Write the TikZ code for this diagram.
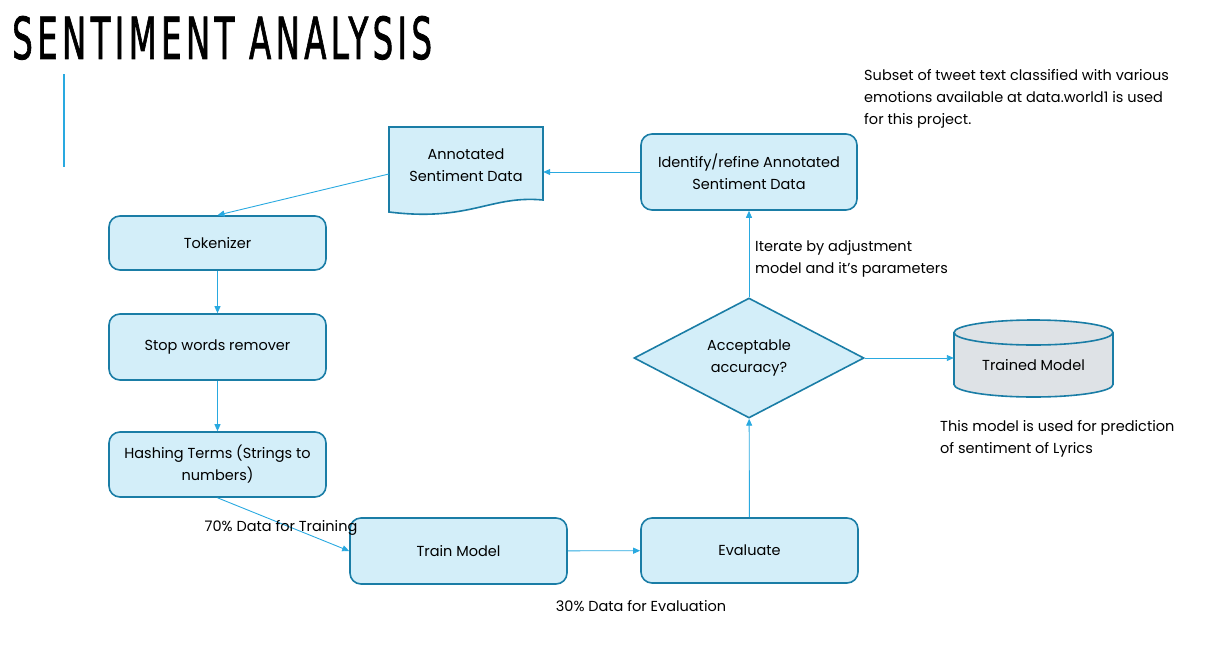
\documentclass[tikz,border=0pt]{standalone}
\usepackage{fontspec}
\setmainfont{Poppins}
\newfontfamily\titlefont[LetterSpace=12,FakeBold=1.6]{DejaVu Sans Condensed}
\usepackage{graphicx}
\usetikzlibrary{arrows.meta,shapes.geometric}
\definecolor{boxfill}{HTML}{D3EEF9}
\definecolor{boxline}{HTML}{1A7DA6}
\definecolor{flowline}{HTML}{29A9E0}
\definecolor{cylfill}{HTML}{DEE2E6}
\def\ellipsearc[#1](#2,#3)(#4:#5:#6:#7){\draw[#1] ({#2+#6*cos(#4)},{#3-#7*sin(#4)}) arc[start angle=-#4, end angle=-#5, x radius=#6, y radius=#7];}

\begin{document}
\begin{tikzpicture}[x=1pt, y=-1pt,
		font=\fontsize{14.5}{22}\selectfont,
		box/.style={draw=boxline, line width=1.6pt, fill=boxfill, rounded corners=11pt, align=center, inner sep=0pt},
		flow/.style={flowline, line width=0.9pt, -{Triangle[length=7pt,width=6pt]}},
		note/.style={align=left, anchor=west, inner sep=0pt}]
			%%%%% START %%%%%
			\useasboundingbox (0,0) rectangle (1213,651);
			
			\node[anchor=south west, inner sep=0pt] (title) at (12,60) {\resizebox{420pt}{43pt}{\titlefont SENTIMENT ANALYSIS}};
			\draw[flowline, line width=1.6pt] (64,74) -- (64,167);
			
			\draw[draw=boxline, line width=1.6pt, fill=boxfill] (389,127) -- (543,127) -- (543,200) .. controls (490,195) and (470,222) .. (389,212) -- cycle;
			\node[inner sep=0pt, minimum width=154pt, minimum height=94pt, align=center] (annot) at (466,174) {};
			\node[align=center] (annottext) at (466,165) {Annotated\\Sentiment Data};
			
			\node[box, minimum width=216pt, minimum height=76pt] (refine) at (749,172) {Identify/refine Annotated\\Sentiment Data};
			
			\node[box, minimum width=217pt, minimum height=54pt] (token) at (217.5,243) {Tokenizer};
			\node[box, minimum width=217pt, minimum height=66pt] (stop) at (217.5,347) {Stop words remover};
			\node[box, minimum width=217pt, minimum height=65pt] (hash) at (217.5,464.5) {Hashing Terms (Strings to\\numbers)};
			
			\node[box, minimum width=217pt, minimum height=66pt] (train) at (458.5,551) {Train Model};
			\node[box, minimum width=217pt, minimum height=65pt] (eval) at (749.5,550.5) {Evaluate};
			
			\node[diamond, draw=boxline, line width=1.6pt, fill=boxfill, aspect=1.9, minimum width=230pt, minimum height=120pt, inner sep=0pt, align=center] (accept) at (749,358) {Acceptable\\accuracy?};
			
			\draw[draw=boxline, line width=1.6pt, fill=cylfill] (954,332.5) -- (954,384.5) arc[start angle=180, end angle=0, x radius=79.5, y radius=12.5] -- (1113,332.5) arc[start angle=0, end angle=-180, x radius=79.5, y radius=12.5] -- cycle;
			\ellipsearc[draw=boxline, line width=1.6pt](1033.5,332.5)(180:360:79.5:12.5);
			\node[inner sep=0pt, minimum width=159pt, minimum height=77pt] (trained) at (1033.5,358) {};
			\node (trainedtext) at (1033.5,365) {Trained Model};
			
			\draw[flow] (refine.west) -- (refine.west -| annot.east);
			\draw[flow] (annot.west) -- (token.north);
			\draw[flow] (token) -- (stop);
			\draw[flow] (stop) -- (hash);
			\draw[flow] (hash.south) -- (train.west);
			\draw[flow] (train) -- (eval);
			\draw[flow] (eval) -- (accept);
			\draw[flow] (accept) -- (refine);
			\draw[flow] (accept) -- (trained);
			
			\node[note] (subset) at (864,99) {Subset of tweet text classified with various\\emotions available at data.world1 is used\\for this project.};
			\node[note] (iterate) at (755,259) {Iterate by adjustment\\model and it’s parameters};
			\node[note] (predict) at (940,439) {This model is used for prediction\\of sentiment of Lyrics};
			\node[inner sep=0pt] (split70) at (281,528) {70\% Data for Training};
			\node[inner sep=0pt] (split30) at (641,606) {30\% Data for Evaluation};
			%%%%% END %%%%%
		\end{tikzpicture}
\end{document}
